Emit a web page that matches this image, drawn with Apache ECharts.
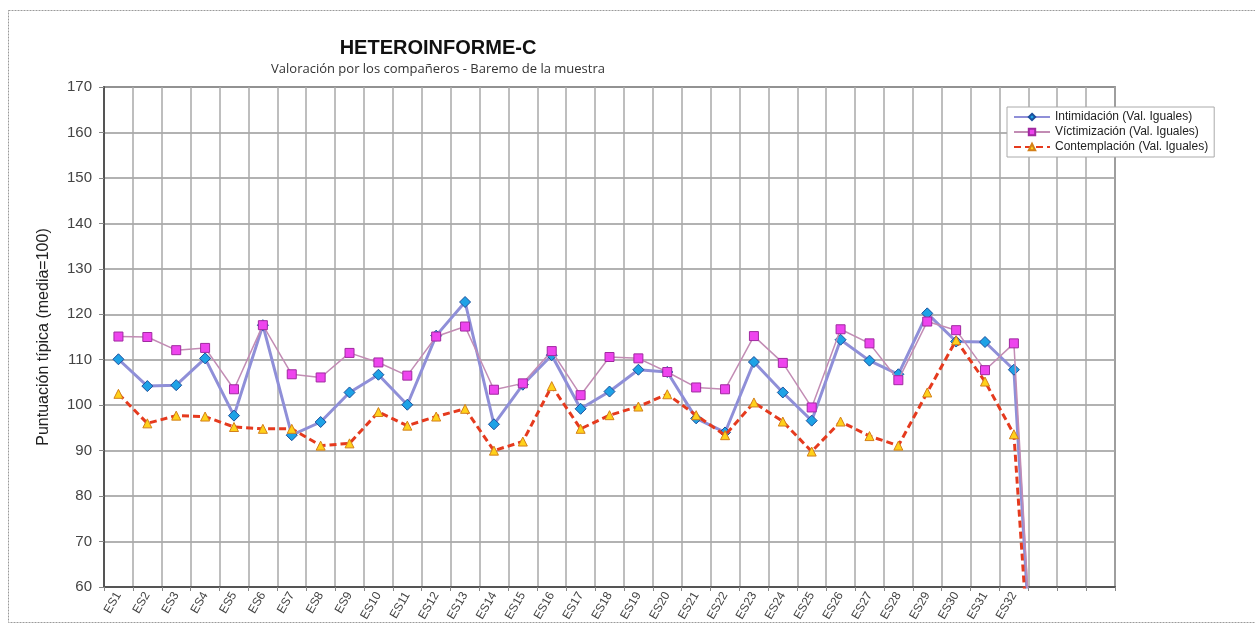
<!DOCTYPE html>
<html>
<head>
<meta charset="utf-8">
<script src="https://cdn.jsdelivr.net/npm/echarts@6/dist/echarts.min.js"></script>
<style>
  html, body { margin: 0; padding: 0; background: #fff; }
  #chart { width: 1255px; height: 625px; }
</style>
</head>
<body>
<div id="chart"></div>
<script>
// categorias (las 3 ultimas sin etiqueta)
const categories = ['ES1', 'ES2', 'ES3', 'ES4', 'ES5', 'ES6', 'ES7', 'ES8', 'ES9', 'ES10',
  'ES11', 'ES12', 'ES13', 'ES14', 'ES15', 'ES16', 'ES17', 'ES18', 'ES19', 'ES20',
  'ES21', 'ES22', 'ES23', 'ES24', 'ES25', 'ES26', 'ES27', 'ES28', 'ES29', 'ES30',
  'ES31', 'ES32', '', '', '']

const intimidacion = [110.1, 104.2, 104.4, 110.3, 97.7, 117.6, 93.4, 96.3, 102.8, 106.7,
  100.1, 115.3, 122.7, 95.8, 104.5, 111.0, 99.2, 103.0, 107.8, 107.3,
  97.1, 94.0, 109.5, 102.8, 96.6, 114.4, 109.8, 106.8, 120.2, 114.0,
  113.9, 107.8, 0, null, null]

const victimizacion = [115.1, 115.0, 112.1, 112.6, 103.5, 117.6, 106.8, 106.1, 111.5, 109.4,
  106.5, 115.1, 117.3, 103.4, 104.8, 111.9, 102.2, 110.6, 110.3, 107.3,
  103.9, 103.5, 115.2, 109.3, 99.5, 116.7, 113.6, 105.5, 118.4, 116.5,
  107.7, 113.6, 0, null, null]

const contemplacion = [102.5, 96.0, 97.7, 97.5, 95.2, 94.8, 94.8, 91.1, 91.6, 98.5,
  95.5, 97.5, 99.2, 90.0, 92.0, 104.2, 94.8, 97.8, 99.7, 102.4,
  97.8, 93.4, 100.6, 96.4, 89.8, 96.4, 93.2, 91.1, 102.8, 114.3,
  105.2, 93.6, 0, null, null]

const yTicks = { min: 60, max: 170, step: 10 }

const chart = echarts.init(document.getElementById('chart'))
const font = 'Liberation Sans, Arial, sans-serif'

const option = {
  animation: false,
  backgroundColor: '#fff',
  textStyle: { fontFamily: font },
  graphic: [
    {
      type: 'rect',
      shape: { x: 8.5, y: 10.5, width: 1250, height: 612 },
      style: { fill: 'none', stroke: '#9a9a9a', lineWidth: 1, lineDash: [2, 1] },
      silent: true
    }
  ],
  title: {
    text: 'HETEROINFORME-C',
    subtext: 'Valoración por los compañeros - Baremo de la muestra',
    left: 433,
    top: 33,
    textAlign: 'center',
    itemGap: 5,
    textStyle: { fontFamily: font, fontSize: 20, fontWeight: 'bold', color: '#111' },
    subtextStyle: { fontFamily: 'Open Sans, sans-serif', fontSize: 13, color: '#333' }
  },
  legend: {
    orient: 'vertical',
    left: 1007,
    top: 107,
    padding: [4, 6, 4, 6],
    itemGap: 3,
    itemWidth: 36,
    itemHeight: 8,
    borderColor: '#aaa',
    borderWidth: 1,
    backgroundColor: '#fff',
    textStyle: { fontFamily: font, fontSize: 12, color: '#222' },
    data: ['Intimidación (Val. Iguales)', 'Víctimización (Val. Iguales)', 'Contemplación (Val. Iguales)']
  },
  grid: {
    left: 104,
    right: 140,
    top: 87,
    bottom: 38,
    show: true,
    borderColor: '#555',
    borderWidth: 1.5
  },
  xAxis: {
    type: 'category',
    data: categories,
    boundaryGap: true,
    axisLine: { lineStyle: { color: '#555', width: 2 } },
    axisTick: { show: true, interval: 0, length: 4, lineStyle: { color: '#888' } },
    axisLabel: { interval: 0, rotate: 60, fontSize: 12, color: '#444', margin: 6 },
    splitLine: { show: true, interval: 0, lineStyle: { color: '#a8a8a8', width: 1.5 } }
  },
  yAxis: {
    type: 'value',
    min: yTicks.min,
    max: yTicks.max,
    interval: yTicks.step,
    name: 'Puntuación típica (media=100)',
    nameLocation: 'middle',
    nameGap: 52,
    nameTextStyle: { fontFamily: font, fontSize: 16, color: '#222' },
    axisLine: { show: true, lineStyle: { color: '#555', width: 2 } },
    axisTick: { show: true, length: 5, lineStyle: { color: '#888' } },
    axisLabel: { fontSize: 15, color: '#444', margin: 12 },
    splitLine: { show: true, lineStyle: { color: '#999', width: 1.5 } }
  },
  series: [
    {
      name: 'Intimidación (Val. Iguales)',
      type: 'line',
      data: intimidacion,
      symbol: 'diamond',
      symbolSize: 11,
      lineStyle: { color: '#8f8fd8', width: 3 },
      itemStyle: { color: '#1ea2e6', borderColor: '#1c4f9c', borderWidth: 1 },
      z: 3
    },
    {
      name: 'Víctimización (Val. Iguales)',
      type: 'line',
      data: victimizacion,
      symbol: 'rect',
      symbolSize: 9,
      lineStyle: { color: '#c28cb4', width: 1.5 },
      itemStyle: { color: '#ee44ee', borderColor: '#a02aa0', borderWidth: 1 },
      z: 4
    },
    {
      name: 'Contemplación (Val. Iguales)',
      type: 'line',
      data: contemplacion,
      symbol: 'triangle',
      symbolSize: 9,
      lineStyle: { color: '#e53a1e', width: 3, type: [7, 4] },
      itemStyle: { color: '#ffd11a', borderColor: '#d4801a', borderWidth: 1 },
      z: 5
    }
  ]
}

chart.setOption(option)
</script>
</body>
</html>
